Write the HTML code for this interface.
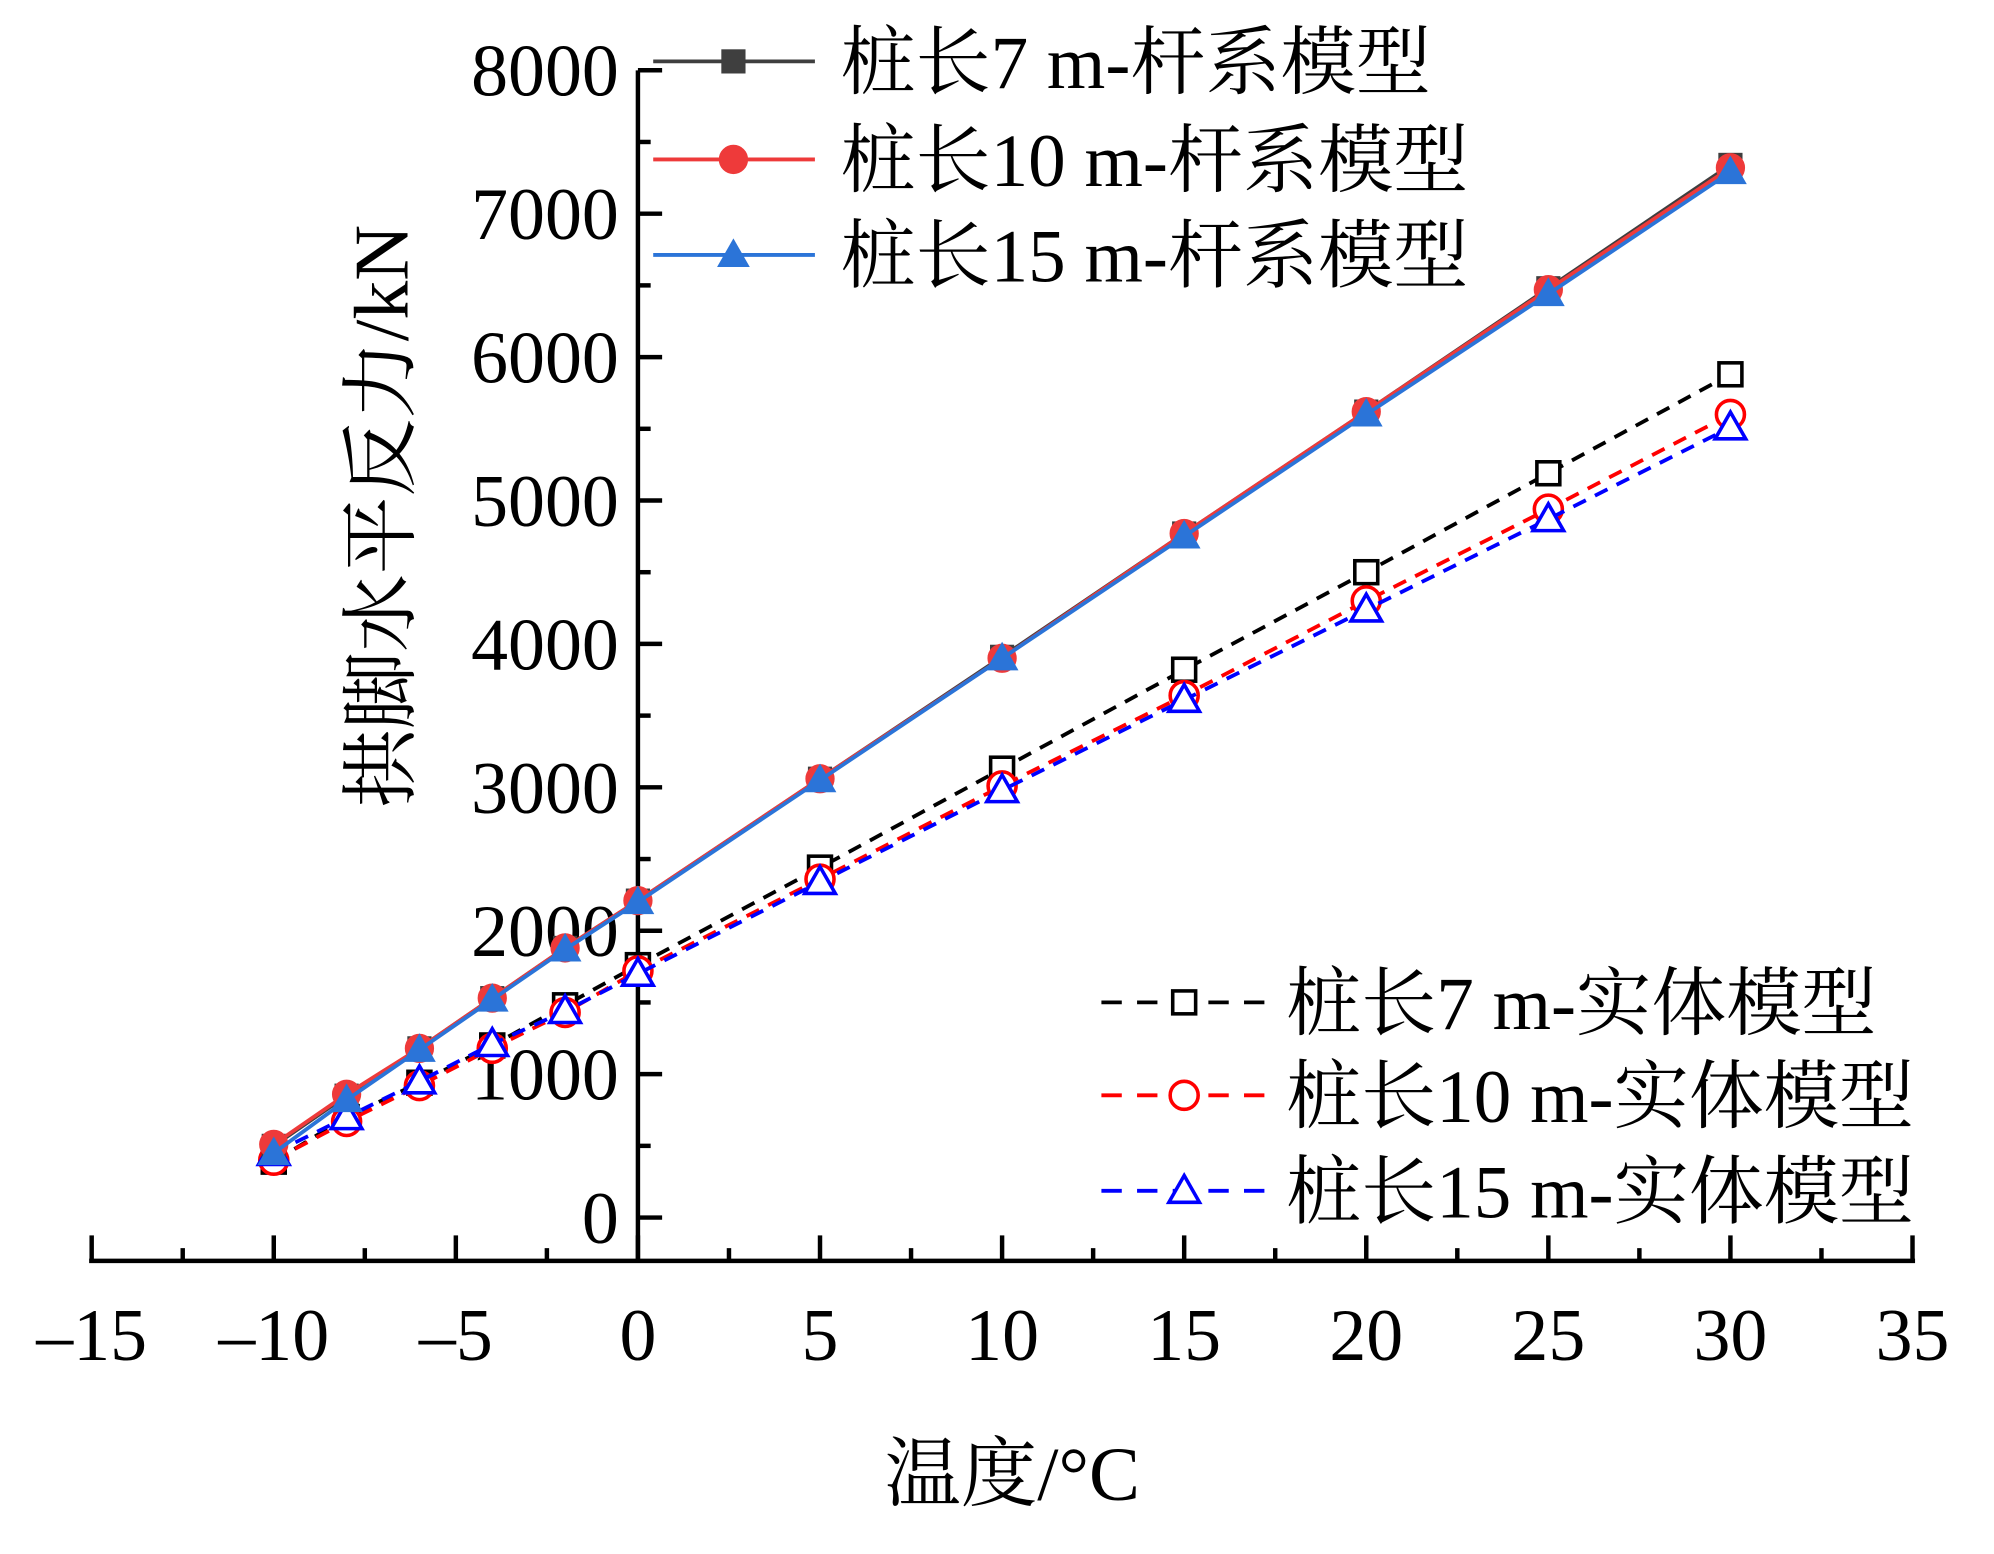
<!DOCTYPE html>
<html><head><meta charset="utf-8"><style>
html,body{margin:0;padding:0;background:#fff}
svg{display:block}
text{font-family:"Liberation Serif","Noto Serif CJK SC","Noto Sans CJK SC",serif;fill:#000}
</style></head><body>
<svg id="chart" width="1994" height="1554" viewBox="0 0 1566 1220" xmlns="http://www.w3.org/2000/svg"></svg>
<script>
const temps=[-10,-8,-6,-4,-2,0,5,10,15,20,25,30];
const bar7=[500,850,1180,1530,1880,2210,3060,3910,4770,5620,6480,7340];
const bar10=[510,860,1180,1530,1880,2210,3060,3900,4770,5620,6470,7320];
const bar15=[450,820,1170,1520,1870,2200,3050,3900,4750,5600,6440,7290];
const solid7=[390,700,940,1200,1480,1760,2440,3130,3820,4500,5190,5880];
const solid10=[400,670,920,1180,1430,1720,2360,3010,3640,4300,4940,5600];
const solid15=[450,700,950,1210,1440,1700,2340,2980,3610,4240,4870,5510];
const xTicks=[-15,-10,-5,0,5,10,15,20,25,30,35];
const yTicks=[0,1000,2000,3000,4000,5000,6000,7000,8000];
const names=["桩长7 m-杆系模型","桩长10 m-杆系模型","桩长15 m-杆系模型","桩长7 m-实体模型","桩长10 m-实体模型","桩长15 m-实体模型"];

const NS="http://www.w3.org/2000/svg";
const svg=document.getElementById('chart');
const X=v=>501+(v)*28.6;
const Y=v=>956-v*0.11263;
function el(t,a,p){const e=document.createElementNS(NS,t);for(const k in a)e.setAttribute(k,a[k]);(p||svg).appendChild(e);return e;}

let ax=el('line',{x1:70,y1:990,x2:1504,y2:990,stroke:'#000','stroke-width':3.5});


let ay=el('line',{x1:501,y1:55,x2:501,y2:990,stroke:'#000','stroke-width':3.5});


for(let v=-15;v<=35;v+=2.5){
  const major=v%5===0;
  const t=el('line',{x1:X(v),y1:990,x2:X(v),y2:major?970:980,stroke:'#000','stroke-width':3.5});
  
  
}
xTicks.forEach(v=>{
  const t=el('text',{x:X(v),y:1068,'font-size':58,'text-anchor':'middle'});
  t.textContent=(v<0?'–':'')+Math.abs(v);
  
  
});
for(let v=0;v<=8000;v+=500){
  const major=v%1000===0;
  const t=el('line',{x1:501,y1:Y(v),x2:major?520:511,y2:Y(v),stroke:'#000','stroke-width':3.5});
  
  
}
yTicks.forEach(v=>{
  const t=el('text',{x:486,y:Y(v)+20,'font-size':58,'text-anchor':'end'});
  t.textContent=v;
  
  
});
let xl=el('text',{x:795,y:1178,'font-size':60,'text-anchor':'middle'});xl.textContent='温度/°C';


let yl=el('text',{x:0,y:0,'font-size':61,'text-anchor':'middle',transform:'translate(320,405) rotate(-90)'});yl.textContent='拱脚水平反力/kN';



function marker(g,type,x,y,color,filled){
  const f=filled?color:'#fff',sw=filled?1:2.8;
  if(type==='s')return el('rect',{x:x-9,y:y-9,width:18,height:18,fill:f,stroke:color,'stroke-width':sw},g);
  if(type==='c')return el('circle',{cx:x,cy:y,r:11,fill:f,stroke:color,'stroke-width':sw},g);
  return el('polygon',{points:`${x},${y-12} ${x+12},${y+9} ${x-12},${y+9}`,fill:f,stroke:color,'stroke-width':sw},g);
}
const series=[
 {d:bar7,c:'#3f3f3f',m:'s',f:true,dash:null,n:'series-bar-7m'},
 {d:bar10,c:'#ee3a3a',m:'c',f:true,dash:null,n:'series-bar-10m'},
 {d:bar15,c:'#2b74d8',m:'t',f:true,dash:null,n:'series-bar-15m'},
 {d:solid7,c:'#000',m:'s',f:false,dash:'11 8',n:'series-solid-7m'},
 {d:solid10,c:'#ff0000',m:'c',f:false,dash:'11 8',n:'series-solid-10m'},
 {d:solid15,c:'#0000ff',m:'t',f:false,dash:'11 8',n:'series-solid-15m'}
];
[3,4,5,0,1,2].forEach(i=>{
  const s=series[i];
  const g=el('g',{});
  
  
  const a={points:temps.map((t,j)=>X(t)+','+Y(s.d[j])).join(' '),fill:'none',stroke:s.c,'stroke-width':3};
  if(s.dash)a['stroke-dasharray']=s.dash;
  el('polyline',a,g);
  temps.forEach((t,j)=>{const m=marker(g,s.m,X(t),Y(s.d[j]),s.c,s.f);
    
    });
});
const lg=[[513,640,576,660,48],[513,640,576,660,125],[513,640,576,660,200],[865,995,930,1010,787],[865,995,930,1010,860],[865,995,930,1010,935]];
series.forEach((s,i)=>{
  const [x1,x2,mx,tx,y]=lg[i];
  const g=el('g',{});
  
  
  const a={x1:x1,y1:y,x2:x2,y2:y,stroke:s.c,'stroke-width':3};
  if(s.dash)a['stroke-dasharray']='16 12';
  el('line',a,g);
  marker(g,s.m,mx,y,s.c,s.f);
  const t=el('text',{x:tx,y:y+21,'font-size':59},g);t.textContent=names[i];
});
</script>
</body></html>
